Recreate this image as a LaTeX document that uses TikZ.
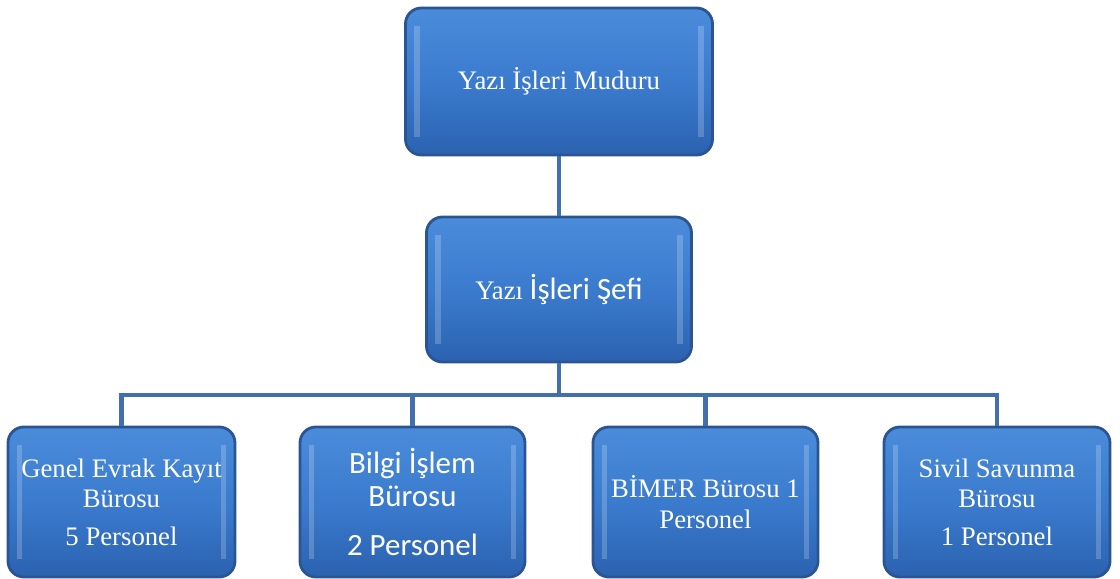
\documentclass[tikz,border=0pt]{standalone}
\usepackage{fontspec}
\setmainfont{Liberation Serif}
\newfontfamily\calibri{Carlito}
\usetikzlibrary{positioning}
\definecolor{boxblue}{HTML}{3B7BCE}
\definecolor{boxtop}{HTML}{4A8CDA}
\definecolor{boxbot}{HTML}{2B62B0}
\definecolor{boxedge}{HTML}{2A5592}
\definecolor{linkblue}{HTML}{4270AE}

\begin{document}
\begin{tikzpicture}[x=0.01cm, y=-0.01cm,
    box/.style={draw=boxedge, line width=0.8pt, rounded corners=4.5pt,
        top color=boxtop, bottom color=boxbot, middle color=boxblue,
        text=white, align=center, inner sep=0pt,
        font=\fontsize{7.6}{8.6}\selectfont,
        path picture={
            \fill[white, opacity=0.2, sharp corners, draw=none] ([xshift=2.5pt, yshift=-5pt]path picture bounding box.north west)
                rectangle ([xshift=4pt, yshift=5pt]path picture bounding box.south west);
            \fill[white, opacity=0.2, sharp corners, draw=none] ([xshift=-2.5pt, yshift=-5pt]path picture bounding box.north east)
                rectangle ([xshift=-4pt, yshift=5pt]path picture bounding box.south east);
        }},
    sbox/.style={box, font=\calibri\fontsize{8.8}{9.4}\selectfont},
    link/.style={draw=linkblue, line width=1.3pt}]
    \useasboundingbox (0,0) rectangle (1120,579);

    \node[box, minimum width=307*0.01cm, minimum height=147*0.01cm] (mudur) at (559,81.5) {Yazı İşleri Muduru};
    \node[box, minimum width=265*0.01cm, minimum height=145*0.01cm] (sef) at (559,289.5) {Yazı {\calibri\fontsize{8.8}{9.4}\selectfont İşleri Şefi}};

    \node[box, minimum width=227*0.01cm, minimum height=150*0.01cm] (evrak) at (121.5,502) {Genel Evrak Kayıt\\Bürosu\\[2.2pt]5 Personel};
    \node[sbox, minimum width=225*0.01cm, minimum height=150*0.01cm] (bilgi) at (412.5,502) {Bilgi İşlem\\Bürosu\\[4.6pt]2 Personel};
    \node[box, minimum width=225*0.01cm, minimum height=150*0.01cm] (bimer) at (705.5,502) {BİMER Bürosu 1\\Personel};
    \node[box, minimum width=226*0.01cm, minimum height=150*0.01cm] (sivil) at (997,502) {Sivil Savunma\\Bürosu\\[2.2pt]1 Personel};

    \coordinate (bus) at (559,395);

    \draw[link] (mudur) -- (sef);
    \draw[link] (sef) -- (bus);
    \draw[link] (bus) -| (evrak);
    \draw[link] (bus) -| (bilgi);
    \draw[link] (bus) -| (bimer);
    \draw[link] (bus) -| (sivil);
\end{tikzpicture}
\end{document}
